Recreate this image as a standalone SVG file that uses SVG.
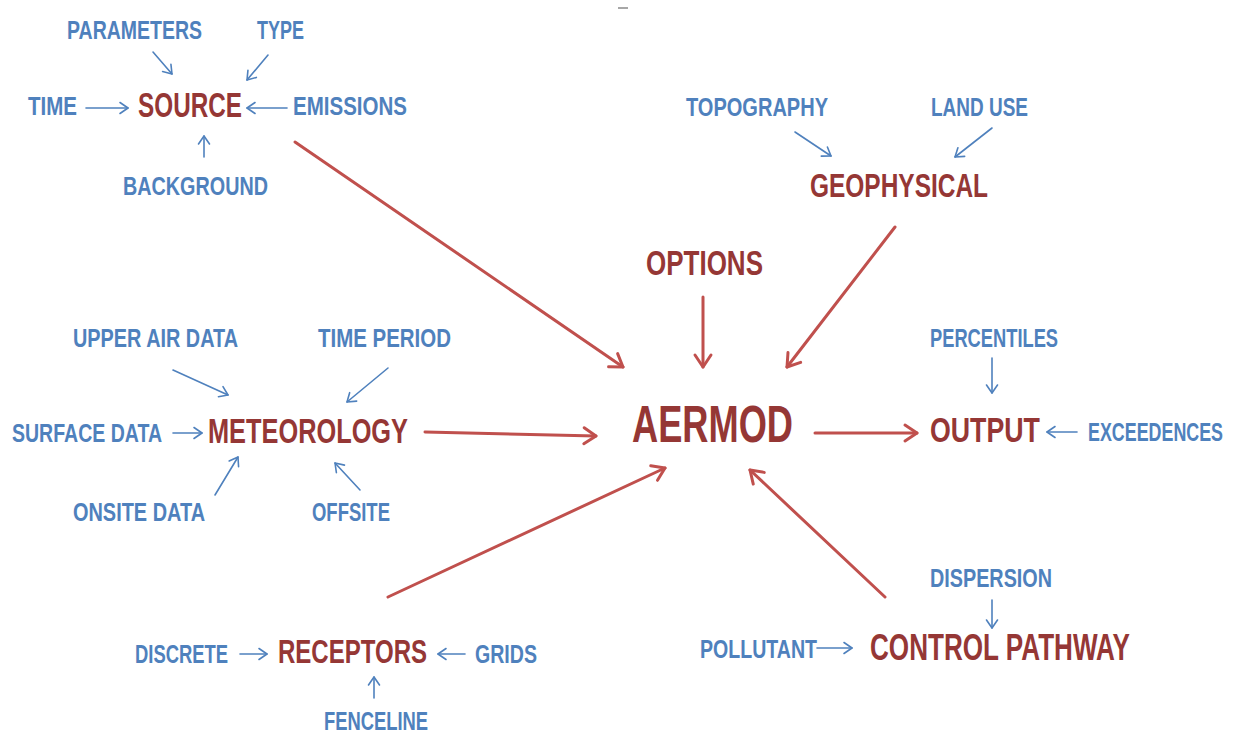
<svg xmlns="http://www.w3.org/2000/svg" width="1233" height="734" viewBox="0 0 1233 734">
<defs>
<style>
.b{font-family:"Liberation Sans",Arial,sans-serif;font-weight:bold;font-size:26px;fill:#4f81bd}
.r{font-family:"Liberation Sans",Arial,sans-serif;font-weight:bold;fill:#953735}
.bl{stroke:#4f81bd;stroke-width:1.6;fill:none;stroke-linecap:round;marker-end:url(#ab)}
.rl{stroke:#c0504d;stroke-width:3;fill:none;stroke-linecap:round;marker-end:url(#ar)}
</style>
<marker id="ar" markerUnits="userSpaceOnUse" orient="auto" markerWidth="30" markerHeight="30" refX="0" refY="0" viewBox="-15 -15 30 30" overflow="visible">
<path d="M-12,-8 L0,0 L-12,8" fill="none" stroke="#c0504d" stroke-width="3" stroke-linecap="round" stroke-linejoin="round"/>
</marker>
<marker id="ab" markerUnits="userSpaceOnUse" orient="auto" markerWidth="20" markerHeight="20" refX="0" refY="0" viewBox="-10 -10 20 20" overflow="visible">
<path d="M-8,-5.5 L0,0 L-8,5.5" fill="none" stroke="#4f81bd" stroke-width="1.6" stroke-linecap="round" stroke-linejoin="round"/>
</marker>
</defs>
<rect width="1233" height="734" fill="#ffffff"/>
<line x1="618" y1="8" x2="628" y2="8" stroke="#8a8a8a" stroke-width="1.5"/>

<g id="connectors">
<line class="bl" x1="153" y1="52" x2="172" y2="74"/>
<line class="bl" x1="268" y1="55" x2="247" y2="80"/>
<line class="bl" x1="86" y1="108" x2="128" y2="108"/>
<line class="bl" x1="287" y1="108" x2="247" y2="108"/>
<line class="bl" x1="204" y1="157" x2="204" y2="136"/>
<line class="bl" x1="795" y1="132" x2="831" y2="156"/>
<line class="bl" x1="992" y1="128" x2="955" y2="157"/>
<line class="bl" x1="173" y1="370" x2="228" y2="395"/>
<line class="bl" x1="388" y1="368" x2="347" y2="402"/>
<line class="bl" x1="173" y1="433" x2="202" y2="433"/>
<line class="bl" x1="215" y1="495" x2="238" y2="457"/>
<line class="bl" x1="360" y1="490" x2="335" y2="463"/>
<line class="bl" x1="992" y1="358" x2="992" y2="393"/>
<line class="bl" x1="1077" y1="432" x2="1047" y2="432"/>
<line class="bl" x1="240" y1="654" x2="267" y2="654"/>
<line class="bl" x1="465" y1="654" x2="438" y2="654"/>
<line class="bl" x1="374" y1="698" x2="374" y2="677"/>
<line class="bl" x1="992" y1="600" x2="992" y2="628"/>
<line class="bl" x1="817" y1="648" x2="852" y2="648"/>
<line class="rl" x1="295" y1="142" x2="623" y2="367"/>
<line class="rl" x1="895" y1="227" x2="787" y2="367"/>
<line class="rl" x1="703" y1="297" x2="703" y2="367"/>
<line class="rl" x1="425" y1="432" x2="596" y2="436"/>
<line class="rl" x1="388" y1="597" x2="665" y2="468"/>
<line class="rl" x1="885" y1="597" x2="750" y2="470"/>
<line class="rl" x1="815" y1="433" x2="917" y2="433"/>
</g>

<g id="parameters"><text class="b" x="0" y="39" transform="matrix(0.7 0 0 1 67 0)" textLength="192.9" lengthAdjust="spacingAndGlyphs">PARAMETERS</text></g>
<g id="type"><text class="b" x="0" y="39" transform="matrix(0.7 0 0 1 257 0)" textLength="67.1" lengthAdjust="spacingAndGlyphs">TYPE</text></g>
<g id="time"><text class="b" x="0" y="115" transform="matrix(0.7 0 0 1 28 0)" textLength="70" lengthAdjust="spacingAndGlyphs">TIME</text></g>
<g id="emissions"><text class="b" x="0" y="115" transform="matrix(0.7 0 0 1 293 0)" textLength="162.9" lengthAdjust="spacingAndGlyphs">EMISSIONS</text></g>
<g id="background"><text class="b" x="0" y="195" transform="matrix(0.7 0 0 1 123 0)" textLength="207.1" lengthAdjust="spacingAndGlyphs">BACKGROUND</text></g>
<g id="source"><text class="r" x="0" y="117" font-size="36" transform="matrix(0.7 0 0 1 138 0)" textLength="148.6" lengthAdjust="spacingAndGlyphs">SOURCE</text></g>

<g id="topography"><text class="b" x="0" y="116" transform="matrix(0.7 0 0 1 686 0)" textLength="202.9" lengthAdjust="spacingAndGlyphs">TOPOGRAPHY</text></g>
<g id="landuse"><text class="b" x="0" y="116" transform="matrix(0.7 0 0 1 931 0)" textLength="138.6" lengthAdjust="spacingAndGlyphs">LAND USE</text></g>
<g id="geophysical"><text class="r" x="0" y="197" font-size="34" transform="matrix(0.7 0 0 1 810 0)" textLength="254.3" lengthAdjust="spacingAndGlyphs">GEOPHYSICAL</text></g>

<g id="options"><text class="r" x="0" y="275" font-size="35" transform="matrix(0.7 0 0 1 646 0)" textLength="167.1" lengthAdjust="spacingAndGlyphs">OPTIONS</text></g>

<g id="upperair"><text class="b" x="0" y="347" transform="matrix(0.7 0 0 1 73 0)" textLength="235.7" lengthAdjust="spacingAndGlyphs">UPPER AIR DATA</text></g>
<g id="timeperiod"><text class="b" x="0" y="347" transform="matrix(0.7 0 0 1 318 0)" textLength="190" lengthAdjust="spacingAndGlyphs">TIME PERIOD</text></g>
<g id="surfacedata"><text class="b" x="0" y="442" transform="matrix(0.7 0 0 1 12 0)" textLength="214.3" lengthAdjust="spacingAndGlyphs">SURFACE DATA</text></g>
<g id="onsitedata"><text class="b" x="0" y="521" transform="matrix(0.7 0 0 1 73 0)" textLength="188.6" lengthAdjust="spacingAndGlyphs">ONSITE DATA</text></g>
<g id="offsite"><text class="b" x="0" y="521" transform="matrix(0.7 0 0 1 312 0)" textLength="111.4" lengthAdjust="spacingAndGlyphs">OFFSITE</text></g>
<g id="meteorology"><text class="r" x="0" y="443" font-size="35" transform="matrix(0.7 0 0 1 208 0)" textLength="285.7" lengthAdjust="spacingAndGlyphs">METEOROLOGY</text></g>

<g id="aermod"><text class="r" x="0" y="442" font-size="51" transform="matrix(0.7 0 0 1 632 0)" textLength="230" lengthAdjust="spacingAndGlyphs">AERMOD</text></g>

<g id="percentiles"><text class="b" x="0" y="347" transform="matrix(0.7 0 0 1 930 0)" textLength="182.9" lengthAdjust="spacingAndGlyphs">PERCENTILES</text></g>
<g id="exceedences"><text class="b" x="0" y="441" transform="matrix(0.7 0 0 1 1088 0)" textLength="192.9" lengthAdjust="spacingAndGlyphs">EXCEEDENCES</text></g>
<g id="output"><text class="r" x="0" y="442" font-size="36" transform="matrix(0.7 0 0 1 930 0)" textLength="157.1" lengthAdjust="spacingAndGlyphs">OUTPUT</text></g>

<g id="discrete"><text class="b" x="0" y="663" transform="matrix(0.7 0 0 1 135 0)" textLength="132.9" lengthAdjust="spacingAndGlyphs">DISCRETE</text></g>
<g id="grids"><text class="b" x="0" y="663" transform="matrix(0.7 0 0 1 475 0)" textLength="88.6" lengthAdjust="spacingAndGlyphs">GRIDS</text></g>
<g id="fenceline"><text class="b" x="0" y="730" transform="matrix(0.7 0 0 1 324 0)" textLength="148.6" lengthAdjust="spacingAndGlyphs">FENCELINE</text></g>
<g id="receptors"><text class="r" x="0" y="663" font-size="34" transform="matrix(0.7 0 0 1 278 0)" textLength="212.9" lengthAdjust="spacingAndGlyphs">RECEPTORS</text></g>

<g id="dispersion"><text class="b" x="0" y="587" transform="matrix(0.7 0 0 1 930 0)" textLength="174.3" lengthAdjust="spacingAndGlyphs">DISPERSION</text></g>
<g id="pollutant"><text class="b" x="0" y="658" transform="matrix(0.7 0 0 1 700 0)" textLength="167.1" lengthAdjust="spacingAndGlyphs">POLLUTANT</text></g>
<g id="controlpathway"><text class="r" x="0" y="660" font-size="37" transform="matrix(0.7 0 0 1 870 0)" textLength="371.4" lengthAdjust="spacingAndGlyphs">CONTROL PATHWAY</text></g>
</svg>
